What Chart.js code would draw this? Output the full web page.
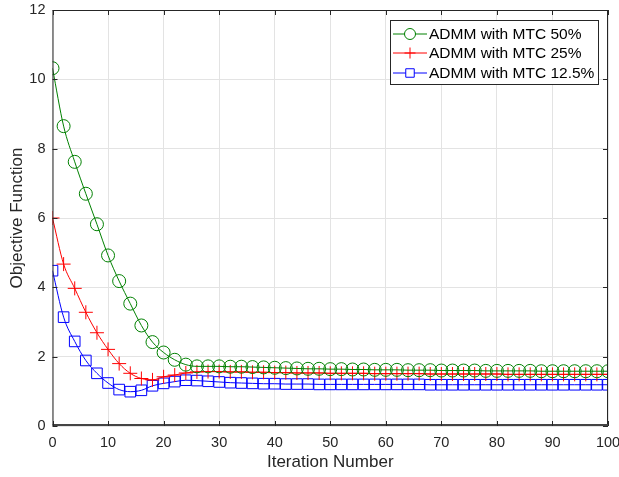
<!DOCTYPE html>
<html>
<head>
<meta charset="utf-8">
<script src="https://cdn.jsdelivr.net/npm/chart.js@4/dist/chart.umd.min.js"></script>
<style>
  html, body { margin: 0; padding: 0; background: #fff; }
  #wrap { width: 619px; height: 477px; }
</style>
</head>
<body>
<div id="wrap"><canvas id="chart" width="619" height="477"></canvas></div>
<script>
// iterations with markers (every 2nd)
const iterations = []
for (let i = 0; i <= 100; i += 2) iterations.push(i)

const mtc50 = [10.32, 8.65, 7.62, 6.70, 5.82, 4.92, 4.18, 3.53, 2.90, 2.42,
  2.12, 1.91, 1.77, 1.72, 1.72, 1.72, 1.71, 1.71, 1.70, 1.69,
  1.68, 1.67, 1.66, 1.65, 1.65, 1.64, 1.64, 1.63, 1.63, 1.62,
  1.62, 1.62, 1.61, 1.61, 1.61, 1.60, 1.60, 1.60, 1.60, 1.59,
  1.59, 1.59, 1.59, 1.59, 1.58, 1.58, 1.58, 1.58, 1.58, 1.58, 1.58]

const mtc25 = [6.00, 4.67, 3.97, 3.28, 2.69, 2.21, 1.80, 1.52, 1.37, 1.33,
  1.42, 1.47, 1.53, 1.56, 1.57, 1.57, 1.56, 1.56, 1.55, 1.55,
  1.54, 1.54, 1.53, 1.53, 1.53, 1.52, 1.52, 1.52, 1.52, 1.51,
  1.51, 1.51, 1.51, 1.51, 1.50, 1.50, 1.50, 1.50, 1.50, 1.50,
  1.50, 1.49, 1.49, 1.49, 1.49, 1.49, 1.49, 1.49, 1.49, 1.49, 1.49]

const mtc125 = [4.48, 3.14, 2.44, 1.89, 1.52, 1.24, 1.05, 0.99, 1.03, 1.16,
  1.23, 1.28, 1.32, 1.31, 1.29, 1.27, 1.25, 1.24, 1.23, 1.22,
  1.22, 1.21, 1.21, 1.21, 1.20, 1.20, 1.20, 1.20, 1.20, 1.20,
  1.20, 1.20, 1.20, 1.20, 1.19, 1.19, 1.19, 1.19, 1.19, 1.19,
  1.19, 1.19, 1.19, 1.19, 1.19, 1.19, 1.19, 1.19, 1.19, 1.19, 1.19]

const seriesLabels = ['ADMM with MTC 50%', 'ADMM with MTC 25%', 'ADMM with MTC 12.5%']
const seriesColors = ['#008000', '#ff0000', '#0000ff']
const seriesMarkers = ['circle', 'cross', 'rect']

const fontFamily = '"Liberation Sans", Arial, sans-serif'
const axisColor = '#262626'

function toPoints(values){
    return values.map((v, i) => ({x: iterations[i], y: v}))
}

const markerSizes = {circle: 6.5, cross: 7, rect: 7.5}

const datasets = [mtc50, mtc25, mtc125].map((values, i) => ({
    label: seriesLabels[i],
    data: toPoints(values),
    borderColor: seriesColors[i],
    backgroundColor: 'rgba(0,0,0,0)',
    pointBorderColor: seriesColors[i],
    pointBackgroundColor: 'rgba(0,0,0,0)',
    pointStyle: seriesMarkers[i],
    pointRadius: markerSizes[seriesMarkers[i]],
    pointBorderWidth: 1,
    borderWidth: 1,
    cubicInterpolationMode: 'monotone',
    fill: false
}))

// inward ticks, box and legend the MATLAB way
const matlabBox = {
    id: 'matlabBox',
    afterDraw(chart){
        const ctx = chart.ctx
        const a = chart.chartArea
        const xs = chart.scales.x
        const ys = chart.scales.y
        ctx.save()
        ctx.strokeStyle = axisColor
        ctx.lineWidth = 1
        ctx.beginPath()
        ctx.rect(a.left + 0.5, a.top + 0.5, a.right - a.left - 1, a.bottom - a.top - 1)
        ctx.stroke()
        ctx.strokeStyle = '#444'
        ctx.lineWidth = 2
        ctx.beginPath()
        ctx.moveTo(a.left, a.bottom - 1); ctx.lineTo(a.right, a.bottom - 1)
        ctx.stroke()
        ctx.strokeStyle = axisColor
        ctx.lineWidth = 1
        const tl = 5
        ctx.beginPath()
        for (let v = 0; v <= 100; v += 10){
            const px = Math.round(xs.getPixelForValue(v)) + 0.5
            ctx.moveTo(px, a.bottom); ctx.lineTo(px, a.bottom - tl)
            ctx.moveTo(px, a.top); ctx.lineTo(px, a.top + tl)
        }
        for (let v = 0; v <= 12; v += 2){
            const py = Math.round(ys.getPixelForValue(v)) + 0.5
            ctx.moveTo(a.left, py); ctx.lineTo(a.left + tl, py)
            ctx.moveTo(a.right, py); ctx.lineTo(a.right - tl, py)
        }
        ctx.stroke()

        // legend
        const lx = 390, ly = 20, lw = 208, lh = 64
        ctx.fillStyle = '#fff'
        ctx.fillRect(lx, ly, lw, lh)
        ctx.strokeStyle = axisColor
        ctx.strokeRect(lx + 0.5, ly + 0.5, lw, lh)
        ctx.font = '15.5px ' + fontFamily
        ctx.textBaseline = 'middle'
        const rowY = [34, 53, 73]
        for (let i = 0; i < seriesLabels.length; i++){
            const y = rowY[i]
            ctx.strokeStyle = seriesColors[i]
            ctx.beginPath()
            ctx.moveTo(lx + 3, y); ctx.lineTo(lx + 37, y)
            ctx.stroke()
            const m = seriesMarkers[i]
            ctx.fillStyle = '#fff'
            Chart.helpers.drawPoint(ctx, {pointStyle: m, radius: m === 'rect' ? 6 : 5.5, borderWidth: 1}, lx + 20, y)
            ctx.fillStyle = '#000'
            ctx.fillText(seriesLabels[i], lx + 39, y + 1)
        }
        ctx.restore()
    }
}

const ctx = document.getElementById('chart').getContext('2d')
const myChart = new Chart(ctx, {
    type: 'line',
    data: { datasets: datasets },
    options: {
        responsive: false,
        animation: false,
        layout: { padding: { top: 10, right: 11, left: 0, bottom: 0 } },
        scales: {
            x: {
                type: 'linear',
                min: 0, max: 100,
                afterFit: s => { s.height = 51; s.paddingLeft = 0; s.paddingRight = 0 },
                ticks: { stepSize: 10, color: axisColor, font: { size: 14.5, family: fontFamily }, padding: 8, maxRotation: 0 },
                grid: { color: '#e3e3e3', drawTicks: false },
                border: { display: false },
                title: { display: true, text: 'Iteration Number', color: axisColor, font: { size: 17, family: fontFamily }, padding: { top: 3 } }
            },
            y: {
                min: 0, max: 12,
                afterFit: s => { s.width = 52.5; s.paddingTop = 0; s.paddingBottom = 0 },
                ticks: { stepSize: 2, color: axisColor, font: { size: 14.5, family: fontFamily }, padding: 7 },
                grid: { color: '#e3e3e3', drawTicks: false },
                border: { display: false },
                title: { display: true, text: 'Objective Function', color: axisColor, font: { size: 17, family: fontFamily }, padding: { top: 7 } }
            }
        },
        plugins: {
            legend: { display: false },
            tooltip: { enabled: false }
        }
    },
    plugins: [matlabBox]
})
</script>
</body>
</html>
